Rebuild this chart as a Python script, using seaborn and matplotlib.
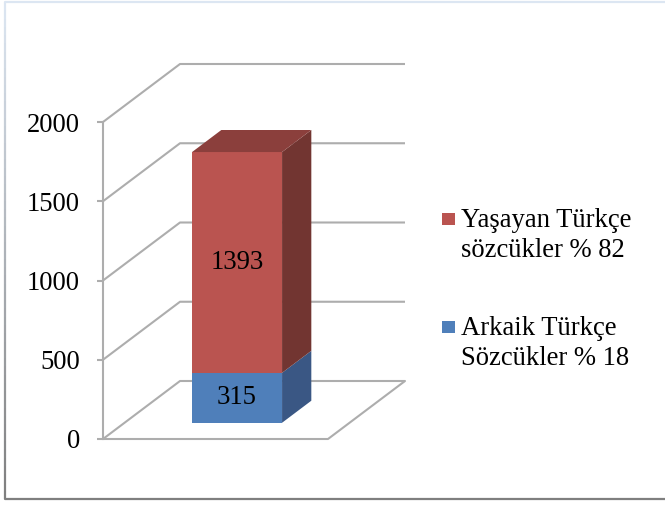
import numpy as np
import pandas as pd
import matplotlib
matplotlib.use("Agg")
import matplotlib.pyplot as plt
import seaborn as sns
from matplotlib.patches import Polygon, Rectangle
from matplotlib.collections import LineCollection

# ---- data ----
series_labels = ["Arkaik Türkçe\nSözcükler % 18", "Yaşayan Türkçe\nsözcükler % 82"]
series_values = [315, 1393]
category = [""]
front_colors = ["#4F7FBA", "#BA5450"]
side_colors = ["#3A5784", "#723531"]
top_colors = ["#3F6391", "#8B3F3C"]
yticks = [0, 500, 1000, 1500, 2000]

sns.set_theme(style="white")
plt.rcParams['font.family'] = ['Liberation Serif', 'DejaVu Serif']

FS = 19.2
W_PX, H_PX = 665, 505
fig = plt.figure(figsize=(W_PX / 100, H_PX / 100), dpi=100)
ax = fig.add_axes([103 / W_PX, (H_PX - 439) / H_PX, 225 / W_PX, 317 / H_PX])
ax.set_facecolor("none")

GRID = "#ADADAD"
LW = 1.5
# depth of the 3-D box (x units, value units) and bar depth fractions
DX = 77 / 225
DY = 58 / (317 / 2000)
D0, D1 = 0.28, 0.66
BW = 0.4

# back wall / floor lines
for v in yticks:
    ax.plot([-0.5, -0.5 + DX, 0.5 + DX], [v, v + DY, v + DY],
            color=GRID, lw=LW, clip_on=False, zorder=1, solid_capstyle="butt")
ax.plot([-0.5, 0.5, 0.5 + DX], [0, 0, DY], color=GRID, lw=LW,
        clip_on=False, zorder=1)

# stacked bars (front faces) with seaborn: totals first, then lower segment
cum = np.cumsum(series_values)
bottoms = cum - np.array(series_values)
df = pd.DataFrame({"cat": category * len(series_values), "total": cum,
                   "series": series_labels})
for i in reversed(range(len(series_values))):
    sns.barplot(data=df.iloc[[i]], x="cat", y="total", color=front_colors[i],
                width=BW, saturation=1, ax=ax, zorder=3)
for p in ax.patches:
    p.set_x(p.get_x() + D0 * DX)
    p.set_y(p.get_y() + D0 * DY)
    p.set_clip_on(False)
    p.set_linewidth(0)

xl, xr = -BW / 2, BW / 2
for i, (b, v) in enumerate(zip(bottoms, series_values)):
    t = b + v
    side = [(xr + D0 * DX, b + D0 * DY), (xr + D1 * DX, b + D1 * DY),
            (xr + D1 * DX, t + D1 * DY), (xr + D0 * DX, t + D0 * DY)]
    ax.add_patch(Polygon(side, closed=True, facecolor=side_colors[i],
                         edgecolor="none", clip_on=False, zorder=3))
    if i == len(series_values) - 1:
        top = [(xl + D0 * DX, t + D0 * DY), (xr + D0 * DX, t + D0 * DY),
               (xr + D1 * DX, t + D1 * DY), (xl + D1 * DX, t + D1 * DY)]
        ax.add_patch(Polygon(top, closed=True, facecolor=top_colors[i],
                             edgecolor="none", clip_on=False, zorder=3))
    ax.text(D0 * DX, b + v / 2 + D0 * DY, f"{v}", ha="center", va="center",
            fontsize=FS, color="black", zorder=5)

ax.set_xlim(-0.5, 0.5)
ax.set_ylim(0, 2000)
ax.set_yticks(yticks)
ax.set_xticks([])
ax.set_xlabel("")
ax.set_ylabel("")
for s in ["top", "right", "bottom"]:
    ax.spines[s].set_visible(False)
ax.spines["left"].set_color(GRID)
ax.spines["left"].set_linewidth(LW)
ax.tick_params(axis="y", left=True, direction="out", length=4.5, width=LW,
               color=GRID, pad=12, labelsize=FS, labelcolor="black")

# legend (drawn in figure pixels)
leg_order = [1, 0]
leg_y = [213, 321]
for k, i in enumerate(leg_order):
    y0 = leg_y[k]
    fig.add_artist(Rectangle((442 / W_PX, 1 - (y0 + 12) / H_PX), 13 / W_PX, 12 / H_PX,
                             transform=fig.transFigure, facecolor=front_colors[i],
                             edgecolor="none"))
    fig.text(461 / W_PX, 1 - (y0 - 5) / H_PX, series_labels[i], ha="left", va="top",
             fontsize=FS, linespacing=1.25, color="black")

# outer frame
n = 60
ys = np.linspace(2, 499, n + 1)
segs = [[(5 / W_PX, 1 - ys[j] / H_PX), (5 / W_PX, 1 - ys[j + 1] / H_PX)] for j in range(n)]
c0 = np.array(matplotlib.colors.to_rgb("#DCE6F2"))
c1 = np.array(matplotlib.colors.to_rgb("#7F7F7F"))
cols = [tuple(c0 + (c1 - c0) * (j / (n - 1))) for j in range(n)]
fig.add_artist(LineCollection(segs, colors=cols, linewidths=1.6, transform=fig.transFigure))
fig.add_artist(plt.Line2D([5 / W_PX, 1], [1 - 2 / H_PX, 1 - 2 / H_PX], color="#DCE6F2",
                          lw=1.6, transform=fig.transFigure))
fig.add_artist(plt.Line2D([5 / W_PX, 1], [1 - 499 / H_PX, 1 - 499 / H_PX], color="#7F7F7F",
                          lw=1.6, transform=fig.transFigure))

fig.savefig("out.png", dpi=100, facecolor="white")
